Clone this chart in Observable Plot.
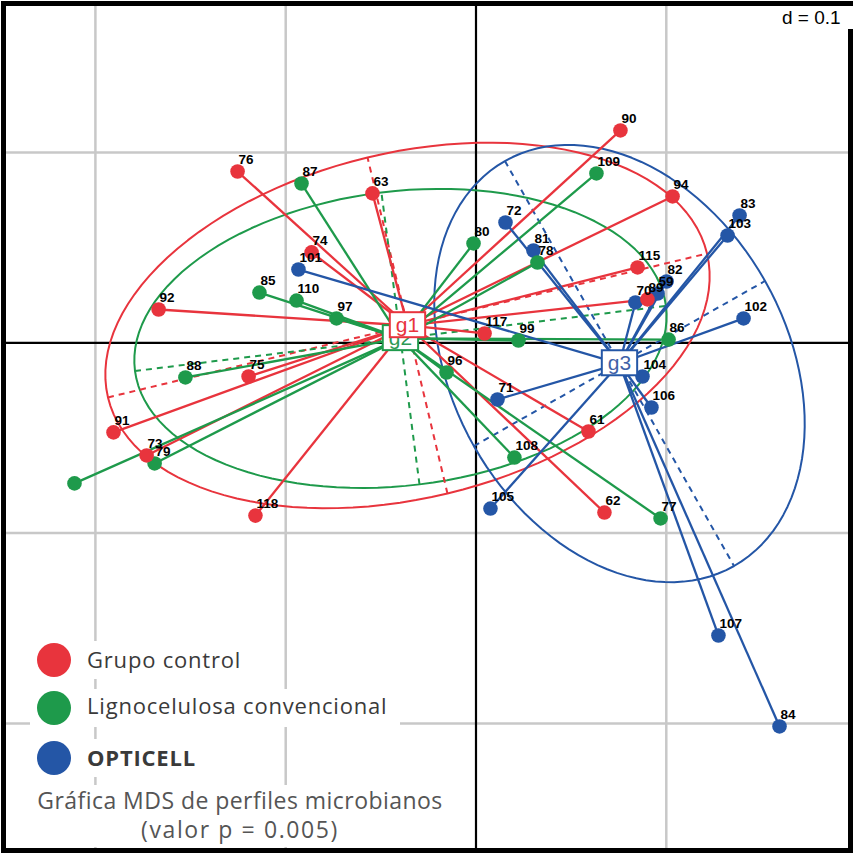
<!DOCTYPE html>
<html><head><meta charset="utf-8">
<script src="https://cdn.jsdelivr.net/npm/d3@7"></script>
<script src="https://cdn.jsdelivr.net/npm/@observablehq/plot@0.6"></script>
<style>
body{margin:0;background:#fff;}
#wrap{position:relative;width:855px;height:855px;overflow:hidden;}
#wrap svg{position:absolute;left:0;top:0;}
</style></head><body><div id="wrap"></div>
<script>
// ---- groups ----
const groupNames = ["Grupo control", "Lignocelulosa convencional", "OPTICELL"];
const groupLabels = ["g1", "g2", "g3"];
const groupColors = ["#e8343d", "#1e9a4b", "#2456a6"];
const groupTextColors = ["#e8343d", "#2e9a55", "#3f62a8"];

// ---- sample coordinates (MDS axis 1 / axis 2) ----
const redIds = ["76","63","74","92","75","91","73","118","90","94","115","89","117","61","62"];
const redX = [-0.1253,-0.0544,-0.0864,-0.1668,-0.1195,-0.1905,-0.1731,-0.1159,0.0759,0.1033,0.0849,0.0901,0.0045,0.0591,0.0675];
const redY = [0.0900,0.0785,0.0475,0.0175,-0.0177,-0.0471,-0.0592,-0.0908,0.1116,0.0769,0.0396,0.0228,0.0049,-0.0466,-0.0892];

const greenIds = ["87","85","110","97","88","79","","80","109","78","99","96","86","108","77"];
const greenX = [-0.0917,-0.1138,-0.0943,-0.0733,-0.1527,-0.1689,-0.2110,-0.0013,0.0633,0.0323,0.0223,-0.0155,0.1012,0.0202,0.0970];
const greenY = [0.0837,0.0264,0.0222,0.0128,-0.0182,-0.0634,-0.0739,0.0522,0.0890,0.0422,0.0012,-0.0156,0.0017,-0.0603,-0.0923];

const blueIds = ["101","72","81","83","103","102","82","59","70","104","106","71","105","107","84"];
const blueX = [-0.0933,0.0155,0.0302,0.1385,0.1322,0.1406,0.1001,0.0954,0.0838,0.0875,0.0922,0.0113,0.0076,0.1274,0.1595];
const blueY = [0.0385,0.0632,0.0485,0.0669,0.0564,0.0128,0.0322,0.0259,0.0212,-0.0177,-0.0340,-0.0298,-0.0871,-0.1538,-0.2016];

// ---- group centroids ----
const centroidX = [-0.0360, -0.0397, 0.0754];
const centroidY = [0.0091, 0.0023, -0.0109];

// ---- ellipses: center + semi-axis vectors ----
const ellMajorX = [0.1574, 0.1395, 0.0602];
const ellMajorY = [0.0378, 0.0171, -0.1064];
const ellMinorX = [-0.0210, -0.0100, 0.0765];
const ellMinorY = [0.0883, 0.0767, 0.0434];

// ---- grid ----
const gridX = [-0.2, -0.1, 0.1];
const gridY = [0.1, -0.1, -0.2];

// build tables
const ids = [redIds, greenIds, blueIds], xs = [redX, greenX, blueX], ys = [redY, greenY, blueY];
const pts = [];
ids.forEach((arr, g) => arr.forEach((id, i) => pts.push({g, id, x: xs[g][i], y: ys[g][i], color: groupColors[g]})));
const cents = [0,1,2].map(g => ({g, x: centroidX[g], y: centroidY[g], label: groupLabels[g], color: groupColors[g], tcolor: groupTextColors[g]}));

const ellPts = [];
const axes = [];
[0,1,2].forEach(g => {
  for (let k = 0; k <= 120; k++) {
    const t = 2 * Math.PI * k / 120;
    ellPts.push({g, color: groupColors[g],
      x: centroidX[g] + Math.cos(t) * ellMajorX[g] + Math.sin(t) * ellMinorX[g],
      y: centroidY[g] + Math.cos(t) * ellMajorY[g] + Math.sin(t) * ellMinorY[g]});
  }
  axes.push({g, color: groupColors[g], x1: centroidX[g] - ellMajorX[g], y1: centroidY[g] - ellMajorY[g], x2: centroidX[g] + ellMajorX[g], y2: centroidY[g] + ellMajorY[g]});
  axes.push({g, color: groupColors[g], x1: centroidX[g] - ellMinorX[g], y1: centroidY[g] - ellMinorY[g], x2: centroidX[g] + ellMinorX[g], y2: centroidY[g] + ellMinorY[g]});
});

const byGroup = g => pts.filter(d => d.g === g);
const starLinks = g => Plot.link(byGroup(g), {x1: () => centroidX[g], y1: () => centroidY[g], x2: "x", y2: "y", stroke: groupColors[g], strokeWidth: 2.3});

const plot = Plot.plot({
  width: 855, height: 855,
  marginLeft: 3, marginRight: 5, marginTop: 3, marginBottom: 5,
  x: {domain: [-0.2483, 0.1968], axis: null},
  y: {domain: [-0.2668, 0.1783], axis: null},
  color: {type: "identity"},
  style: {background: "white"},
  marks: [
    Plot.ruleX(gridX, {stroke: "#c8c8c8", strokeWidth: 2.5}),
    Plot.ruleY(gridY, {stroke: "#c8c8c8", strokeWidth: 2.5}),
    Plot.ruleX([0], {stroke: "black", strokeWidth: 2.2}),
    Plot.ruleY([0], {stroke: "black", strokeWidth: 2.2}),
    Plot.line(ellPts, {x: "x", y: "y", z: "g", stroke: "color", strokeWidth: 2, curve: "linear"}),
    Plot.link(axes, {x1: "x1", y1: "y1", x2: "x2", y2: "y2", stroke: "color", strokeWidth: 2, strokeDasharray: "6,5"}),
    starLinks(0), starLinks(1), starLinks(2),
    Plot.dot(byGroup(2), {x: "x", y: "y", r: 7.3, fill: "color"}),
    Plot.dot(byGroup(1), {x: "x", y: "y", r: 7.3, fill: "color"}),
    Plot.dot(byGroup(0), {x: "x", y: "y", r: 7.3, fill: "color"}),
    Plot.text(pts.filter(d => d.id !== ""), {x: "x", y: "y", text: "id", dx: 1, dy: -12, textAnchor: "start",
      fontSize: 13.5, fontWeight: "bold", fill: "black", fontFamily: "Liberation Sans, Arial, sans-serif"}),
    Plot.text([cents[2], cents[1], cents[0]], {x: "x", y: "y", text: "label", fill: "tcolor", fontSize: 21,
      fontFamily: "Liberation Sans, Arial, sans-serif", className: "glabel"}),
    Plot.frame({stroke: "black", strokeWidth: 5})
  ]
});

const wrap = document.getElementById("wrap");
wrap.appendChild(plot);

// boxes behind group labels
const strokeFor = {};
cents.forEach(c => strokeFor[c.label] = c.color);
plot.querySelectorAll("g.glabel text").forEach(t => {
  const bb = t.getBBox();
  const r = document.createElementNS("http://www.w3.org/2000/svg", "rect");
  r.setAttribute("x", bb.x - 6); r.setAttribute("y", bb.y - 1);
  r.setAttribute("width", bb.width + 12); r.setAttribute("height", bb.height + 2);
  r.setAttribute("fill", "white");
  r.setAttribute("stroke", strokeFor[t.textContent]);
  r.setAttribute("stroke-width", 2);
  const tr = t.getAttribute("transform"); if (tr) r.setAttribute("transform", tr);
  t.parentNode.insertBefore(r, t);
});

// overlay: legend, caption, scale box
const ov = d3.select(wrap).append("svg").attr("width", 855).attr("height", 855).style("pointer-events", "none");
const legendRows = [{y: 660, base: 668, w: 222}, {y: 708, base: 714, w: 370}, {y: 758, base: 766, w: 180}];
legendRows.forEach((row, i) => {
  ov.append("rect").attr("x", 30).attr("y", row.y - 19).attr("width", row.w).attr("height", 38).attr("fill", "white");
  ov.append("circle").attr("cx", 54).attr("cy", row.y).attr("r", 17).attr("fill", groupColors[i]);
  ov.append("text").attr("x", 87).attr("y", row.base).text(groupNames[i])
    .attr("font-family", "Open Sans, sans-serif").attr("font-size", 22).attr("letter-spacing", 0.8)
    .attr("font-weight", i === 2 ? 700 : 400).attr("fill", "#3a3a3a");
});
ov.append("rect").attr("x", 6).attr("y", 785).attr("width", 466).attr("height", 62).attr("fill", "white");
ov.append("text").attr("x", 240).attr("y", 809).attr("text-anchor", "middle").text("Gráfica MDS de perfiles microbianos")
  .attr("font-family", "Open Sans, sans-serif").attr("font-size", 23).attr("letter-spacing", 0.45).attr("fill", "#555");
ov.append("text").attr("x", 240).attr("y", 838).attr("text-anchor", "middle").text("(valor p = 0.005)")
  .attr("font-family", "Open Sans, sans-serif").attr("font-size", 23).attr("letter-spacing", 1.6).attr("fill", "#555");
ov.append("rect").attr("x", 777).attr("y", 6).attr("width", 78).attr("height", 23).attr("fill", "white");
ov.append("text").attr("x", 782).attr("y", 24).text("d = 0.1")
  .attr("font-family", "Liberation Sans, Arial, sans-serif").attr("font-size", 19).attr("fill", "black");
</script></body></html>
